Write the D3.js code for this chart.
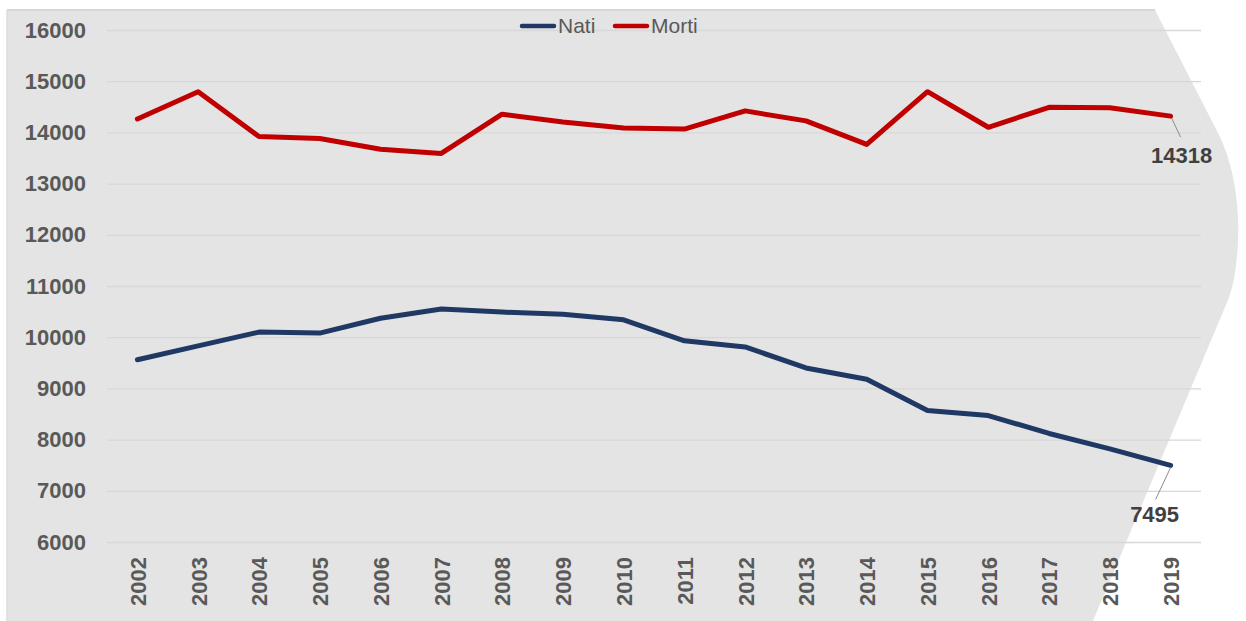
<!DOCTYPE html>
<html>
<head>
<meta charset="utf-8">
<script src="https://cdn.jsdelivr.net/npm/d3@7"></script>
<style>
  body { margin: 0; background: #fff; }
  svg { display: block; font-family: "Liberation Sans", Arial, sans-serif; }
</style>
</head>
<body>
<script>
var years = ["2002", "2003", "2004", "2005", "2006", "2007", "2008", "2009", "2010",
             "2011", "2012", "2013", "2014", "2015", "2016", "2017", "2018", "2019"];
var nati = [9560, 9830, 10100, 10080, 10370, 10550, 10490, 10450, 10340,
            9930, 9810, 9400, 9180, 8570, 8470, 8120, 7820, 7495];
var morti = [14262, 14795, 13920, 13880, 13670, 13590, 14355, 14205, 14085,
             14066, 14420, 14225, 13765, 14795, 14100, 14490, 14480, 14318];
var yTicks = [6000, 7000, 8000, 9000, 10000, 11000, 12000, 13000, 14000, 15000, 16000];

let chart = function() {
    let w = 1246;
    let h = 621;

    let svg = d3.select("body")
        .append("svg")
        .attr("width", w)
        .attr("height", h);

    // grey plot background, cut on the right by the page shape
    svg.append("path")
        .attr("d", "M7,10 L1155,10 L1218,133 C1232,160 1240,200 1238,240 " +
                   "C1237,265 1234,285 1228,300 L1093,621 L7,621 Z")
        .attr("fill", "#e4e4e4");
    svg.append("line")
        .attr("x1", 7).attr("x2", 1155)
        .attr("y1", 10).attr("y2", 10)
        .attr("stroke", "#d6d6d6")
        .attr("stroke-width", 2);
    svg.append("line")
        .attr("x1", 7).attr("x2", 7)
        .attr("y1", 10).attr("y2", 621)
        .attr("stroke", "#dcdcdc")
        .attr("stroke-width", 1.5);

    let x = d3.scalePoint()
        .domain(years)
        .range([107, 1201])
        .padding(0.5);

    let y = d3.scaleLinear()
        .domain([6000, 16000])
        .range([542, 30]);

    // y axis with gridlines
    let yAxis = svg.append("g")
        .attr("transform", "translate(107,0)")
        .call(d3.axisLeft(y).tickValues(yTicks).tickSize(-1094).tickPadding(21)
            .tickFormat(d3.format("d")));
    yAxis.select(".domain").remove();
    yAxis.selectAll("line")
        .attr("stroke", "#d7d7d7")
        .attr("stroke-width", 1.3);
    yAxis.selectAll("text")
        .attr("fill", "#595959")
        .attr("font-size", "22px")
        .attr("font-weight", "bold")
        .attr("font-family", "'Liberation Sans', Arial, sans-serif");

    // x axis, rotated labels
    let xAxis = svg.append("g")
        .attr("transform", "translate(0,542)")
        .call(d3.axisBottom(x).tickSize(0));
    xAxis.select(".domain").remove();
    xAxis.selectAll("text")
        .attr("transform", "rotate(-90)")
        .attr("text-anchor", "end")
        .attr("x", -15)
        .attr("y", 0)
        .attr("dy", "0.36em")
        .attr("fill", "#595959")
        .attr("font-size", "22px")
        .attr("font-weight", "bold")
        .attr("font-family", "'Liberation Sans', Arial, sans-serif");

    let line = d3.line()
        .x(function(d, i) { return x(years[i]); })
        .y(function(d) { return y(d); });

    svg.append("path")
        .datum(nati)
        .attr("d", line)
        .attr("fill", "none")
        .attr("stroke", "#203864")
        .attr("stroke-width", 5)
        .attr("stroke-linejoin", "round")
        .attr("stroke-linecap", "round");

    svg.append("path")
        .datum(morti)
        .attr("d", line)
        .attr("fill", "none")
        .attr("stroke", "#c00000")
        .attr("stroke-width", 5)
        .attr("stroke-linejoin", "round")
        .attr("stroke-linecap", "round");

    // labels on the last point, with leader lines
    let last = years.length - 1;
    let lx = x(years[last]);
    svg.append("line")
        .attr("x1", lx + 1).attr("y1", y(morti[last]) + 2)
        .attr("x2", lx + 10).attr("y2", y(morti[last]) + 21)
        .attr("stroke", "#8c8c8c").attr("stroke-width", 1);
    svg.append("text")
        .attr("x", lx + 11)
        .attr("y", y(morti[last]) + 47)
        .attr("text-anchor", "middle")
        .attr("font-size", "22px")
        .attr("font-weight", "bold")
        .attr("fill", "#404040")
        .text(morti[last]);

    svg.append("line")
        .attr("x1", lx).attr("y1", y(nati[last]) + 2)
        .attr("x2", lx - 15).attr("y2", y(nati[last]) + 34)
        .attr("stroke", "#8c8c8c").attr("stroke-width", 1);
    svg.append("text")
        .attr("x", lx - 16)
        .attr("y", y(nati[last]) + 57)
        .attr("text-anchor", "middle")
        .attr("font-size", "22px")
        .attr("font-weight", "bold")
        .attr("fill", "#404040")
        .text(nati[last]);

    // legend
    let legend = [
        { name: "Nati", color: "#203864", x: 520 },
        { name: "Morti", color: "#c00000", x: 613 }
    ];
    let lg = svg.selectAll(".legend")
        .data(legend)
        .enter()
        .append("g")
        .attr("class", "legend");
    lg.append("line")
        .attr("x1", function(d) { return d.x + 2; })
        .attr("x2", function(d) { return d.x + 34; })
        .attr("y1", 26).attr("y2", 26)
        .attr("stroke", function(d) { return d.color; })
        .attr("stroke-width", 4.5)
        .attr("stroke-linecap", "round");
    lg.append("text")
        .attr("x", function(d) { return d.x + 38; })
        .attr("y", 33)
        .attr("font-size", "21px")
        .attr("fill", "#595959")
        .text(function(d) { return d.name; });
}

chart();
</script>
</body>
</html>
